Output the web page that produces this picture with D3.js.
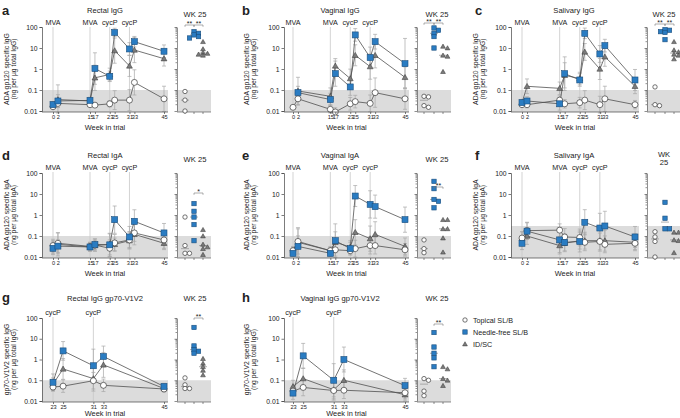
<!DOCTYPE html>
<html><head><meta charset="utf-8">
<script src="https://cdn.jsdelivr.net/npm/d3@7"></script>
<style>
body{margin:0;background:#fff}
svg{display:block}
text{font-family:"Liberation Sans",Arial,Helvetica,sans-serif;fill:#222}
</style>
</head><body>
<svg id="c" width="680" height="418"></svg>
<script>
// ---------------- DATA ----------------
const weeksAll = [0,2,15,17,23,25,31,33,45];
const weeksV1V2 = [23,25,31,33,45];
const groupNames = ["Topical SL/B","Needle-free SL/B","ID/SC"];
const eventsAll = [{wk:0,t:"MVA"},{wk:15,t:"MVA"},{wk:23,t:"cycP"},{wk:31,t:"cycP"}];
const eventsV1V2 = [{wk:23,t:"cycP"},{wk:31,t:"cycP"}];
const yTickVals = [0.01,0.1,1,10,100];
const yTickLabels = ["0.01","0.1","1","10","100"];

// a Rectal IgG
const aTop = [0.016,0.023,0.02,0.019,0.022,0.033,0.033,0.23,0.038];
const aNdl = [0.02,0.03,0.032,1.05,0.45,55,9,20,7];
const aIds = [0.02,0.035,0.03,0.38,0.55,7.5,1.4,8,3.1];
const aTopErr = [0.1,0.2,0.1,0.1,0.15,0.45,0.5,0.6,0.6];
const aNdlErr = [0.15,0.3,0.15,0.75,0.25,0.2,0.3,0.25,0.3];
const aIdsErr = [0.15,0.7,0.15,0.6,0.3,0.6,0.5,0.6,0.35];
const aWkTop = [0.085,0.033,0.01];
const aWkNdl = [60,50,42,35,30];
const aWkIds = [20,9,6,5.5,5,4.5];

// b Vaginal IgG
const bTop = [0.015,0.038,0.012,0.009,0.022,0.028,0.023,0.075,0.038];
const bNdl = [null,0.075,0.035,0.6,0.14,42,3.5,20,1.8];
const bIds = [null,0.09,0.05,1.4,0.35,4.5,1.3,4.5,0.4];
const bTopErr = [0.1,0.3,0.2,0.2,0.3,0.3,0.4,0.7,0.5];
const bNdlErr = [0.2,0.3,0.3,0.6,0.4,0.3,0.5,0.35,1.2];
const bIdsErr = [0.2,0.65,0.4,0.35,0.45,0.5,0.6,0.6,0.5];
const bWkTop = [0.05,0.047,0.018,0.015];
const bWkNdl = [90,70,50,35,10];
const bWkIds = [12,10,4.5,4,0.75];

// c Salivary IgG
const cTop = [0.02,0.02,0.033,0.022,0.025,0.033,0.02,0.038,0.02];
const cNdl = [0.025,0.03,0.022,0.6,0.3,50,5.2,13,0.3];
const cIds = [0.025,0.15,0.12,0.5,0.35,6.5,1.0,3.8,0.15];
const cTopErr = [0.1,0.15,0.2,0.2,0.25,0.45,0.4,0.6,0.2];
const cNdlErr = [0.15,0.2,0.3,0.8,0.3,0.25,0.4,0.3,0.5];
const cIdsErr = [0.15,0.35,0.3,0.6,0.3,0.4,0.5,0.45,0.35];
const cWkTop = [0.14,0.02,0.018];
const cWkNdl = [75,70,60,55,25];
const cWkIds = [20,8,6.5,5,4.5,3];

// d Rectal IgA
const dTop = [0.035,0.045,0.032,0.037,0.026,0.047,0.065,0.14,0.065];
const dNdl = [0.026,0.033,0.03,0.04,0.038,0.6,0.09,0.5,0.14];
const dIds = [0.03,0.04,0.03,0.035,0.04,0.04,0.06,0.12,0.045];
const dTopErr = [0.3,0.5,0.2,0.3,0.4,0.4,0.4,0.4,0.4];
const dNdlErr = [0.3,0.3,0.2,0.25,0.55,0.65,0.5,0.55,0.45];
const dIdsErr = [0.3,0.55,0.2,0.25,0.5,0.3,0.4,0.5,0.3];
const dWkTop = [0.8,0.035,0.015,0.015];
const dWkNdl = [3.5,1.5,0.8,0.35,0.06];
const dWkIds = [0.2,0.1,0.04,0.03,0.025,0.013];

// e Vaginal IgA
const eTop = [0.02,0.055,0.02,0.022,0.02,0.025,0.035,0.035,0.022];
const eNdl = [0.015,0.032,0.015,0.06,0.025,8,3.2,2.5,0.6];
const eIds = [0.02,0.05,0.02,0.05,0.03,0.15,0.075,0.12,0.032];
const eTopErr = [0.15,0.6,0.15,0.3,0.2,0.4,0.4,0.4,0.3];
const eNdlErr = [0.15,0.5,0.15,0.8,0.3,0.5,0.65,0.55,0.6];
const eIdsErr = [0.2,0.7,0.2,0.5,0.3,0.6,0.6,0.6,0.4];
const eWkTop = [0.065,0.025,0.016];
const eWkNdl = [40,18,5.5,4.5,2.2];
const eWkIds = [0.6,0.6,0.22,0.22,0.08,0.017];

// f Salivary IgA
const fTop = [0.08,0.18,0.19,0.09,0.085,0.05,0.055,0.04,0.045];
const fNdl = [0.045,0.17,0.065,0.05,0.055,0.45,0.24,0.3,0.09];
const fIds = [0.08,0.1,0.035,0.045,0.06,0.06,0.06,0.06,0.05];
const fTopErr = [0.3,0.4,0.3,0.4,0.4,0.4,0.4,0.4,0.3];
const fNdlErr = [0.3,0.4,0.6,0.4,0.5,0.6,0.7,0.7,0.5];
const fIdsErr = [0.3,0.4,0.4,0.4,0.4,0.4,0.5,0.5,0.4];
const fWkTop = [0.16,0.09,0.055,0.01];
const fWkNdl = [4,0.7,0.22,0.22];
const fWkIds = [0.15,0.15,0.065,0.06,0.016];

// g Rectal IgG gp70-V1V2
const gTop = [0.047,0.052,0.095,0.057,0.038];
const gNdl = [0.08,2.6,0.5,1.4,0.05];
const gIds = [0.065,0.35,0.12,0.55,0.04];
const gTopErr = [0.2,0.3,0.4,0.3,0.15];
const gNdlErr = [0.4,0.45,0.8,0.5,0.15];
const gIdsErr = [0.3,0.5,0.6,0.6,0.15];
const gWkTop = [0.13,0.06,0.04,0.04];
const gWkNdl = [35,4.5,3,2.5,2];
const gWkIds = [1.1,0.65,0.45,0.3,0.18];

// h Vaginal IgG gp70-V1V2
const hTop = [0.03,0.045,0.032,0.033,0.025];
const hNdl = [0.024,1.5,0.1,1.0,0.055];
const hIds = [0.05,0.12,0.035,0.1,0.02];
const hTopErr = [0.2,0.4,0.4,0.4,0.3];
const hNdlErr = [0.3,0.6,0.8,0.6,0.35];
const hIdsErr = [0.3,0.5,0.5,0.5,0.3];
const hWkTop = [0.12,0.1,0.03,0.018];
const hWkNdl = [20,4,2,1.2,0.45];
const hWkIds = [0.45,0.35,0.12,0.1,0.055];

const ylabIgG = ["ADA gp120 specific IgG","(ng per µg total IgG)"];
const ylabIgA = ["ADA gp120 specific IgA","(ng per µg total IgA)"];
const ylabV1V2 = ["gp70-V1V2 specific IgG","(ng per µg total IgG)"];

const panels = [
 {id:"a",row:0,col:0,title:"Rectal IgG",ylab:ylabIgG,weeks:weeksAll,events:eventsAll,lod:0.1,
  s:[aTop,aNdl,aIds],e:[aTopErr,aNdlErr,aIdsErr],wk:[aWkTop,aWkNdl,aWkIds],wkTitle:["WK 25"],
  sig:[{a:0,b:1,t:"**"},{a:1,b:2,t:"**"}],sigY:25},
 {id:"b",row:0,col:1,title:"Vaginal IgG",ylab:ylabIgG,weeks:weeksAll,events:eventsAll,lod:0.1,
  s:[bTop,bNdl,bIds],e:[bTopErr,bNdlErr,bIdsErr],wk:[bWkTop,bWkNdl,bWkIds],wkTitle:["WK 25"],
  sig:[{a:0,b:1,t:"**"},{a:1,b:2,t:"**"}],sigY:23},
 {id:"c",row:0,col:2,title:"Salivary IgG",ylab:ylabIgG,weeks:weeksAll,events:eventsAll,lod:0.1,
  s:[cTop,cNdl,cIds],e:[cTopErr,cNdlErr,cIdsErr],wk:[cWkTop,cWkNdl,cWkIds],wkTitle:["WK 25"],
  sig:[{a:0,b:1,t:"**"},{a:1,b:2,t:"**"}],sigY:24},
 {id:"d",row:1,col:0,title:"Rectal IgA",ylab:ylabIgA,weeks:weeksAll,events:eventsAll,lod:0.1,
  s:[dTop,dNdl,dIds],e:[dTopErr,dNdlErr,dIdsErr],wk:[dWkTop,dWkNdl,dWkIds],wkTitle:["WK 25"],
  sig:[{a:1,b:2,t:"*"}],sigY:193},
 {id:"e",row:1,col:1,title:"Vaginal IgA",ylab:ylabIgA,weeks:weeksAll,events:eventsAll,lod:0.1,
  s:[eTop,eNdl,eIds],e:[eTopErr,eNdlErr,eIdsErr],wk:[eWkTop,eWkNdl,eWkIds],wkTitle:["WK 25"],
  sig:[{a:1,b:2,t:"**"}],sigY:187},
 {id:"f",row:1,col:2,title:"Salivary IgA",ylab:ylabIgA,weeks:weeksAll,events:eventsAll,lod:0.3,
  s:[fTop,fNdl,fIds],e:[fTopErr,fNdlErr,fIdsErr],wk:[fWkTop,fWkNdl,fWkIds],wkTitle:["WK","25"],
  sig:[],sigY:0},
 {id:"g",row:2,col:0,title:"Rectal IgG  gp70-V1V2",ylab:ylabV1V2,weeks:weeksV1V2,events:eventsV1V2,lod:0.1,
  s:[gTop,gNdl,gIds],e:[gTopErr,gNdlErr,gIdsErr],wk:[gWkTop,gWkNdl,gWkIds],wkTitle:["WK 25"],
  sig:[{a:1,b:2,t:"**"}],sigY:318},
 {id:"h",row:2,col:1,title:"Vaginal IgG gp70-V1V2",ylab:ylabV1V2,weeks:weeksV1V2,events:eventsV1V2,lod:0.1,
  s:[hTop,hNdl,hIds],e:[hTopErr,hNdlErr,hIdsErr],wk:[hWkTop,hWkNdl,hWkIds],wkTitle:["WK 25"],
  sig:[{a:1,b:2,t:"**"}],sigY:324}
];

// ---------------- LAYOUT ----------------
const rows = [
 {yTop:27,yBot:111,title:13,event:25,tick:120,xlab:130,letter:15,wkT:17},
 {yTop:173,yBot:257,title:158,event:170,tick:266,xlab:276,letter:160,wkT:162},
 {yTop:318,yBot:401,title:301,event:315,tick:410,xlab:416,letter:302,wkT:301}
];
const cols = [
 {axisX:42,xr:[53,164],end:168,wkAxis:177,wkCols:[185,194,203],wkEnd:211,ylab:[8.5,15.5],letterX:2,titleX:105,wkTitleX:195},
 {axisX:284,xr:[293,405],end:409,wkAxis:417,wkCols:[424,434,443],wkEnd:451,ylab:[248.5,255.5],letterX:242,titleX:340,wkTitleX:437},
 {axisX:511,xr:[522,635],end:639,wkAxis:647,wkCols:[655,665,674],wkEnd:681,ylab:[477.5,484.5],letterX:475,titleX:574,wkTitleX:664}
];

const BLUE="#2a7cc2", BLUE_S="#1b4e7c", GRAY="#7b7b7b", DARK="#3a3a3a";
const FONT='"Liberation Sans",Arial,sans-serif';
const svg = d3.select("#c");

function marker(sel, gi, cx, cy, big){
  if(gi===0){
    sel.append("circle").attr("cx",cx).attr("cy",cy).attr("r",big?3.0:2.2)
      .attr("fill","#fff").attr("stroke",DARK).attr("stroke-width",0.7);
  } else if(gi===1){
    const s = big?6:4.4;
    sel.append("rect").attr("x",cx-s/2).attr("y",cy-s/2).attr("width",s).attr("height",s)
      .attr("fill",BLUE).attr("stroke",BLUE_S).attr("stroke-width",0.6);
  } else {
    sel.append("path").attr("d",d3.symbol(d3.symbolTriangle, big?15:10)())
      .attr("transform",`translate(${cx},${cy+0.5})`)
      .attr("fill",GRAY).attr("stroke","#333").attr("stroke-width",0.5);
  }
}

panels.forEach(p=>{
  const R=rows[p.row], C=cols[p.col];
  const y=d3.scaleLog().domain([0.01,100]).range([R.yBot,R.yTop]);
  const x=d3.scaleLinear().domain([p.weeks[0],p.weeks[p.weeks.length-1]]).range(C.xr);
  const g=svg.append("g");

  // limit-of-detection shading
  g.append("rect").attr("x",C.axisX).attr("y",y(p.lod)).attr("width",C.end-C.axisX)
    .attr("height",R.yBot-y(p.lod)+1).attr("fill","#dcdcdc");
  g.append("rect").attr("x",C.wkAxis).attr("y",y(p.lod)).attr("width",C.wkEnd-C.wkAxis)
    .attr("height",R.yBot-y(p.lod)+1).attr("fill","#dcdcdc");

  // events
  p.events.forEach(ev=>{
    g.append("line").attr("x1",x(ev.wk)).attr("x2",x(ev.wk)).attr("y1",R.event+2).attr("y2",R.yBot)
      .attr("stroke","#c8c8c8").attr("stroke-width",0.8);
    g.append("text").attr("x",x(ev.wk)).attr("y",R.event).attr("text-anchor","middle")
      .attr("font-size",7.2).text(ev.t);
  });

  // error bars
  p.s.forEach((vals,gi)=>{
    vals.forEach((v,i)=>{
      if(v==null) return;
      const k=Math.pow(10,p.e[gi][i]);
      const xx=x(p.weeks[i]), y1=y(v*k), y2=Math.min(y(v/k),R.yBot+2);
      g.append("line").attr("x1",xx).attr("x2",xx).attr("y1",y1).attr("y2",y2)
        .attr("stroke","#a8a8a8").attr("stroke-width",0.7);
      [y1,y2].forEach(yy=>g.append("line").attr("x1",xx-2).attr("x2",xx+2).attr("y1",yy).attr("y2",yy)
        .attr("stroke","#a8a8a8").attr("stroke-width",0.7));
    });
  });

  // connecting lines
  p.s.forEach((vals,gi)=>{
    const line=d3.line().defined(d=>d.v!=null).x(d=>x(d.w)).y(d=>y(d.v));
    g.append("path").datum(vals.map((v,i)=>({v:v,w:p.weeks[i]})))
      .attr("d",line).attr("fill","none").attr("stroke","#505050").attr("stroke-width",0.8);
  });

  // markers (triangles, circles, squares on top)
  [2,0,1].forEach(gi=>{
    p.s[gi].forEach((v,i)=>{ if(v!=null) marker(g,gi,x(p.weeks[i]),y(v),true); });
  });

  // main y axis
  const ya=d3.axisLeft(y).tickValues(yTickVals).tickFormat((d,i)=>yTickLabels[i]).tickSize(2.5).tickPadding(2);
  const yg=g.append("g").attr("transform",`translate(${C.axisX},0)`).call(ya);
  yg.selectAll("text").attr("font-size",6.8).style("font-family",FONT).attr("fill","#222");
  yg.selectAll("path,line").attr("stroke","#444").attr("stroke-width",0.7);

  // main x axis
  const xa=d3.axisBottom(x).tickValues(p.weeks).tickFormat(d3.format("d")).tickSize(2).tickPadding(1.5).tickSizeOuter(0);
  const xg=g.append("g").attr("transform",`translate(0,${R.yBot+1})`).call(xa);
  xg.select(".domain").attr("d",`M${C.axisX},0H${C.end}`);
  xg.selectAll("text").attr("font-size",5.6).style("font-family",FONT).attr("fill","#222").attr("dy","0.7em");
  xg.selectAll("path,line").attr("stroke","#444").attr("stroke-width",0.7);

  // titles
  g.append("text").attr("x",C.titleX).attr("y",R.title).attr("text-anchor","middle").attr("font-size",7.6).text(p.title);
  g.append("text").attr("x",(C.axisX+C.end)/2).attr("y",R.xlab).attr("text-anchor","middle").attr("font-size",7.4).text("Week in trial");
  g.append("text").attr("x",C.letterX).attr("y",R.letter).attr("font-size",13).attr("font-weight","bold").text(p.id);
  const ymid=(R.yTop+R.yBot)/2;
  p.ylab.forEach((t,i)=>{
    g.append("text").attr("transform",`translate(${C.ylab[i]},${ymid}) rotate(-90)`)
      .attr("text-anchor","middle").attr("font-size",6.8).text(t);
  });

  // ---- WK 25 sub-panel ----
  p.wkTitle.forEach((t,i)=>{
    g.append("text").attr("x",C.wkTitleX).attr("y",R.wkT+(p.wkTitle.length>1?(i*8-5):0))
      .attr("text-anchor","middle").attr("font-size",7.6).text(t);
  });
  const wy=d3.axisLeft(y).tickValues(yTickVals).tickFormat("").tickSize(2.5).tickSizeOuter(0);
  const wg=g.append("g").attr("transform",`translate(${C.wkAxis},0)`).call(wy);
  const minor=[];
  [0.01,0.1,1,10].forEach(b=>{for(let m=2;m<10;m++) minor.push(b*m);});
  wg.selectAll(".minor").data(minor).enter().append("line").attr("x1",-1.5).attr("x2",0)
    .attr("y1",d=>y(d)).attr("y2",d=>y(d));
  wg.selectAll("path,line").attr("stroke","#444").attr("stroke-width",0.6);
  // wk x axis
  const wb=g.append("g").attr("stroke","#444").attr("stroke-width",0.6);
  wb.append("line").attr("x1",C.wkAxis).attr("x2",C.wkEnd).attr("y1",R.yBot+1).attr("y2",R.yBot+1);
  C.wkCols.forEach(cx=>wb.append("line").attr("x1",cx).attr("x2",cx).attr("y1",R.yBot+1).attr("y2",R.yBot+3));

  // medians
  p.wk.forEach((vals,gi)=>{
    const m=d3.median(vals), cx=C.wkCols[gi];
    g.append("line").attr("x1",cx-4).attr("x2",cx+4).attr("y1",y(m)).attr("y2",y(m))
      .attr("stroke","#9a9a9a").attr("stroke-width",0.8);
  });
  // points with simple de-overlap
  p.wk.forEach((vals,gi)=>{
    const placed=[];
    const cx0=C.wkCols[gi];
    vals.forEach(v=>{
      const yy=y(v);
      const offs=[0,2.4,-2.4,4.5,-4.5];
      let off=0;
      for(const o of offs){
        if(!placed.some(q=>Math.abs(q.y-yy)<3.2 && Math.abs(q.o-o)<3.2)){off=o;break;}
      }
      placed.push({y:yy,o:off});
      marker(g,gi,cx0+off,yy,false);
    });
  });
  // significance brackets
  p.sig.forEach(s=>{
    const x1=C.wkCols[s.a], x2=C.wkCols[s.b], yy=p.sigY;
    const bg=g.append("g").attr("stroke","#777").attr("stroke-width",0.6);
    bg.append("line").attr("x1",x1).attr("x2",x2).attr("y1",yy).attr("y2",yy);
    bg.append("line").attr("x1",x1).attr("x2",x1).attr("y1",yy).attr("y2",yy+1.8);
    bg.append("line").attr("x1",x2).attr("x2",x2).attr("y1",yy).attr("y2",yy+1.8);
    g.append("text").attr("x",(x1+x2)/2).attr("y",yy+1.2).attr("text-anchor","middle")
      .attr("font-size",7).text(s.t);
  });
});

// legend
const lg=svg.append("g");
groupNames.forEach((n,i)=>{
  const yy=320+i*12;
  marker(lg,i,465,yy,false);
  lg.append("text").attr("x",473).attr("y",yy+2.5).attr("font-size",7.2).text(n);
});
</script>
</body></html>
